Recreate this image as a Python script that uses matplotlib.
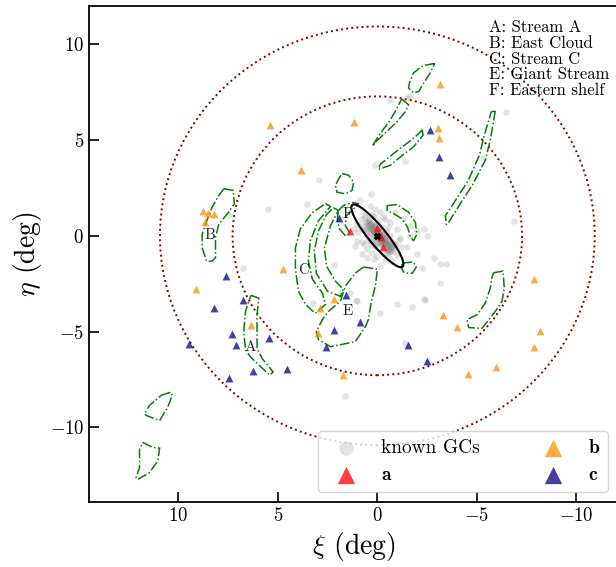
import matplotlib
matplotlib.use('Agg')
import matplotlib.pyplot as plt
from matplotlib.patches import Ellipse, Circle, Polygon

plt.rcParams['font.family'] = 'serif'
plt.rcParams['font.serif'] = ['cmr10']
plt.rcParams['mathtext.fontset'] = 'cm'
plt.rcParams['axes.formatter.use_mathtext'] = True

# --- known GCs (xi, eta in deg) ---
gc_xi = [-1.62, -1.5, -0.62, -6.47, -1.37, -5.31, 0.1, 7.44, 5.49, 6.77, 2.95, 3.53,
         0.32, 0.85, 2.2, 1.36, 1.02, -3.17, -2.86, -3.13, -3.47, -2.33, -2.5, -2.25,
         -2.33, -2.38, -6.87, -0.99, -1.74, -1.41, 3.23, 1.07, -0.14, 1.62,
         -0.9, -0.4, -1.32, -1.66, -1.99, -1.66, -1.99, -1.49, 0.77, 0.52, 0.02, -0.4,
         0.27, 1.11, 1.02, 0.69, 1.19, 0.85, 0.6, 0.19, -0.15, -0.65, -0.99, -1.16,
         -0.9, -0.65, -0.57, -0.74, -0.15, 0.19, 0.35,
         0.6, 0.4, 0.3, 0.5, 0.2, 0.1, 0.0, -0.1, 0.05, -0.2, -0.3, -0.4, -0.5, -0.3,
         -0.6, -0.7, -0.8, -0.5, -0.9, 0.2, 0.35, 0.7, 0.8, 0.25, -0.05, -0.25, -0.45,
         -0.15, 0.1, -0.65, 0.45, -0.35, -0.1, 0.15, -0.25, 0.0, 0.55, -0.75, 0.3, 1.0,
         0.95, -1.0, -1.2, 0.75, -0.55, 0.1, -0.3, 0.5, -1.1, 0.65,
         0.45, 0.35, 0.25, 0.15, 0.05, -0.05, -0.15, -0.25, -0.35, -0.45, -0.55, -0.65,
         0.4, 0.3, 0.2, 0.1, 0.0, -0.1, -0.2, -0.3, -0.4, -0.5, -0.6, -0.7,
         0.55, 0.15, -0.05, -0.35, -0.45, -0.15, 0.25, 0.05, -0.25, -0.55, 0.35, -0.85,
         0.6, 0.45, -0.7, -0.8, 0.1, -0.15, 0.3, -0.4,
         0.5, 0.4, 0.3, 0.2, 0.1, 0.0, -0.1, -0.2, -0.3, -0.4, -0.5, -0.6, -0.7,
         0.35, 0.25, 0.15, 0.05, -0.05, -0.15, -0.25, -0.35, -0.45, -0.55,
         0.2, 0.1, 0.0, -0.1, -0.2, -0.3, 0.3, -0.4, 0.45, -0.6]
gc_eta = [7.28, 7.2, 7.07, 6.46, 3.91, 4.07, 3.72, 1.09, 1.38, -1.68, 2.89, 1.67,
          2.19, 1.88, -1.53, -2.98, -3.38, -2.46, -1.17, -1.47, -1.47, 0.35, 0.0, -1.7,
          -3.28, -3.33, 0.77, -3.54, -3.74, -5.61, -3.51, -3.35, -4.05, -8.35,
          1.26, 0.88, 0.91, 0.53, 0.26, 0.0, -0.96, -0.61, -0.96, -1.14, -1.05, -1.32,
          -0.88, -0.53, -0.26, -0.44, 0.35, 0.53, 0.96, 1.05, 1.23, 0.7, 0.35, -0.09,
          -0.44, -0.79, -1.05, -1.32, -1.58, -1.23, 1.58,
          0.7, 0.9, 0.6, 0.4, 0.3, 0.5, 0.2, 0.0, -0.1, -0.2, 0.1, -0.3, -0.5, -0.6,
          -0.2, -0.6, -0.8, -0.9, -0.5, -0.3, 0.15, 0.3, 0.9, 1.1, 0.75, 0.45, 0.25,
          -0.45, -0.6, 0.05, -0.2, -0.95, 0.3, 0.05, -0.1, -0.35, 0.15, -0.3, -0.5, 0.6,
          0.2, -1.0, -0.6, -0.3, 0.45, 1.4, 1.0, -0.7, -0.2, 1.1,
          0.55, 0.45, 0.35, 0.25, 0.1, 0.0, -0.1, -0.25, -0.35, -0.45, -0.6, -0.7,
          0.8, 0.65, 0.5, 0.4, 0.3, 0.15, 0.05, -0.05, -0.2, -0.3, -0.45, -0.55,
          0.3, 0.2, 0.4, 0.1, -0.1, -0.3, -0.15, -0.45, -0.55, -0.75, 0.6, -0.65,
          0.5, 0.0, -0.4, -0.5, 0.55, 0.2, -0.25, -0.1,
          0.65, 0.5, 0.4, 0.28, 0.15, 0.05, -0.08, -0.2, -0.32, -0.45, -0.55, -0.68, -0.8,
          0.35, 0.25, 0.12, 0.0, -0.12, -0.22, -0.35, -0.48, -0.6, -0.72,
          0.55, 0.45, 0.35, 0.2, 0.1, -0.05, 0.6, -0.15, 0.75, -0.4]

# --- candidate groups ---
a_xi = [1.36, 0.02, -0.29, -0.2]
a_eta = [0.23, 0.4, -0.56, -0.05]

b_xi = [5.38, 1.16, 3.82, -3.17, -3.05, -3.12, 8.76, 8.5, 8.22, 8.69, 9.1, 4.77,
        6.35, -7.89, -3.28, -3.99, -8.19, -7.89, -5.96, -4.54, 2.16, 2.9, 3.0, 1.74]
b_eta = [5.79, 5.95, 3.42, 7.95, 5.63, 5.1, 1.31, 1.19, 1.14, 0.74, -2.8, -1.75,
         -4.68, -2.26, -4.16, -4.74, -4.96, -5.83, -6.84, -7.21, -3.28, -3.77, -5.09, -7.28]

c_xi = [7.62, 6.75, 8.23, 7.32, 9.48, 7.12, 5.46, 6.23, 4.54, 7.47, 1.57, 0.85,
        2.16, 2.56, 1.91, -3.1, -3.67, -2.63, -1.52, -2.5]
c_eta = [-2.12, -3.33, -3.75, -5.14, -5.63, -5.72, -5.35, -7.07, -6.93, -7.42, -3.11, -4.51,
         -4.93, -5.81, 0.93, 4.09, 3.19, 5.53, -5.72, -6.54]

# --- substructure outlines (xi, eta) ---
poly_A = [(6.35, -3.11), (5.96, -3.25), (6.05, -4.12), (6.05, -5.88), (5.79, -6.41),
          (5.24, -7.11), (5.41, -7.28), (5.96, -6.75), (6.38, -6.32), (6.63, -5.96),
          (6.72, -5.0), (6.63, -3.95), (6.47, -3.42)]
poly_B = [(7.72, 2.46), (7.25, 2.37), (7.19, 1.67), (7.55, 1.14), (7.97, 0.62),
          (8.14, -0.09), (8.14, -1.14), (8.31, -1.32), (8.59, -1.32), (8.81, -0.62),
          (8.81, 0.09), (8.64, 0.62), (8.31, 1.49), (7.97, 2.11)]
poly_C1 = [(2.61, 1.68), (2.36, 1.53), (2.96, 0.79), (3.37, -0.26), (3.47, -1.32),
           (3.27, -2.26), (2.76, -3.0), (2.61, -3.58), (3.12, -4.05), (3.62, -3.58),
           (3.97, -2.89), (4.12, -1.74), (4.12, -0.63), (3.87, 0.37), (3.27, 1.21)]
poly_C2 = [(2.21, 1.47), (1.96, 1.32), (2.36, 0.53), (2.66, -0.63), (2.56, -1.58),
           (2.11, -2.37), (1.71, -2.79), (1.86, -3.16), (2.51, -2.89), (3.07, -1.95),
           (3.17, -0.79), (2.96, 0.26), (2.56, 1.11)]
poly_E = [(0.7, -1.63), (0.0, -1.74), (0.1, -2.63), (0.3, -3.42), (0.45, -4.37),
          (0.6, -4.74), (1.11, -5.53), (2.36, -5.79), (2.96, -5.42), (3.07, -5.0),
          (2.76, -4.37), (2.46, -3.95), (1.86, -3.42), (1.61, -2.63), (1.11, -1.95)]
poly_F = [(1.96, 1.32), (1.71, 1.58), (1.26, 1.74), (0.95, 1.68), (1.26, 1.32),
          (1.56, 1.05), (1.61, 0.53), (1.36, 0.11), (1.61, 0.0), (1.91, 0.37), (2.01, 0.89)]
poly_NE = [(1.77, 3.25), (1.44, 3.16), (1.19, 2.81), (1.27, 2.37), (1.61, 2.19),
           (2.03, 2.28), (2.11, 2.63), (1.94, 2.98)]
poly_W1 = [(-0.49, 1.58), (-0.99, 1.63), (-1.57, 1.23), (-1.91, 0.7), (-1.99, 0.09),
           (-1.82, -0.26), (-1.66, -0.05), (-1.51, 0.47), (-1.24, 0.89), (-0.82, 1.16),
           (-0.49, 1.32)]
poly_W2 = [(-1.26, -1.42), (-1.81, -1.37), (-1.96, -1.63), (-1.76, -1.95),
           (-1.36, -1.95), (-1.21, -1.68)]
poly_N1 = [(-2.88, 9.0), (-2.3, 8.89), (-1.82, 8.51), (-1.61, 7.98), (-1.57, 7.72),
           (-1.82, 7.46), (-2.08, 7.54), (-2.33, 7.98), (-2.66, 8.51)]
poly_N2 = [(-1.24, 7.14), (-1.57, 6.84), (-1.41, 6.49), (-0.99, 5.96), (-0.65, 5.62),
           (0.1, 4.89), (0.25, 4.68), (-0.05, 5.21), (-0.65, 6.05), (-0.99, 6.67),
           (-1.16, 7.02)]
poly_N3 = [(-2.25, 5.53), (-2.3, 5.26), (-1.82, 4.65), (-1.16, 4.12), (-0.65, 3.68),
           (-0.05, 3.47), (-0.15, 3.74), (-0.82, 4.3), (-1.49, 4.83), (-2.0, 5.26)]
poly_NW = [(-5.93, 6.53), (-5.68, 5.0), (-5.43, 3.95), (-4.77, 2.63), (-4.27, 1.84),
           (-3.57, 0.68), (-3.47, 0.58), (-3.42, 1.05), (-3.92, 1.84), (-4.57, 2.89),
           (-5.13, 4.21), (-5.38, 5.26), (-5.73, 6.47)]
poly_SW = [(-5.84, -1.93), (-6.32, -1.84), (-6.38, -2.72), (-6.27, -3.42), (-5.93, -3.95),
           (-5.26, -4.83), (-4.59, -4.79), (-4.51, -4.38), (-5.01, -4.12), (-5.43, -3.51),
           (-5.68, -2.72), (-5.76, -2.19)]
poly_SE1 = [(10.87, -8.33), (10.37, -8.16), (10.32, -8.33), (10.54, -8.95), (10.95, -9.65),
            (11.62, -9.38), (11.71, -9.3), (11.46, -8.86)]
poly_SE2 = [(11.79, -10.79), (11.29, -11.05), (10.95, -11.09), (11.04, -11.75),
            (11.46, -12.37), (12.05, -12.72), (12.13, -12.63), (11.96, -12.11), (11.96, -11.14)]

outlines = [poly_A, poly_B, poly_C1, poly_C2, poly_E, poly_F, poly_NE, poly_W1, poly_W2,
            poly_N1, poly_N2, poly_N3, poly_NW, poly_SW, poly_SE1, poly_SE2]

label_text = ['A', 'B', 'C', 'E', 'F']
label_xi = [6.38, 8.43, 3.7, 1.49, 1.52]
label_eta = [-5.79, 0.04, -1.79, -3.95, 1.14]

key_lines = ['A: Stream A', 'B: East Cloud', 'C: Stream C', 'E: Giant Stream', 'F: Eastern shelf']

ring_radii = [7.28, 10.93]   # 100 and 150 kpc
disk_a, disk_b, disk_pa = 2.05, 0.45, 38.0

fig = plt.figure(figsize=(6.16, 5.67), dpi=100)
ax = fig.add_axes([89 / 616, 65 / 567, 529 / 616, 496 / 567])

for r in ring_radii:
    ax.add_patch(Circle((0, 0), r, fill=False, ls=':', lw=1.4, color='darkred', zorder=1))

for pts in outlines:
    ax.add_patch(Polygon(pts, closed=True, fill=False, ls='-.', lw=1.1,
                         color='green', zorder=2))

gcs = ax.scatter(gc_xi, gc_eta, s=22, c='gray', alpha=0.22, lw=0, zorder=1.5, label='known GCs')
sa = ax.scatter(a_xi, a_eta, s=32, marker='^', c='red', alpha=0.75, lw=0, zorder=3,
                label=r'$\mathbf{a}$')
sb = ax.scatter(b_xi, b_eta, s=32, marker='^', c='darkorange', alpha=0.75, lw=0, zorder=3,
                label=r'$\mathbf{b}$')
sc = ax.scatter(c_xi, c_eta, s=32, marker='^', c='darkblue', alpha=0.75, lw=0, zorder=3,
                label=r'$\mathbf{c}$')

ax.add_patch(Ellipse((0, 0), 2 * disk_a, 2 * disk_b, angle=90 - disk_pa,
                     fill=False, color='black', lw=1.5, zorder=4))
ax.scatter([0], [0], marker='X', s=18, c='black', zorder=5)

for t, x, y in zip(label_text, label_xi, label_eta):
    ax.text(x, y, t, fontsize=11, ha='center', va='center', color='#222222', zorder=4)

ax.text(0.756, 0.972, '\n'.join(key_lines), transform=ax.transAxes, fontsize=12,
        va='top', ha='left', linespacing=1.03)

ax.set_xlim(14.5, -12.1)
ax.set_ylim(-13.9, 12.0)
ax.set_xlabel(r'$\xi$ (deg)', fontsize=20)
ax.set_ylabel(r'$\eta$ (deg)', fontsize=20)
ax.tick_params(direction='in', length=7, width=1.2, labelsize=13.5, top=False, right=False)
for sp in ax.spines.values():
    sp.set_linewidth(1.3)

ax.legend(handles=[gcs, sa, sb, sc], loc='lower right', ncol=2, fontsize=14,
          markerscale=2.2, columnspacing=2.8)

fig.savefig('out.png', dpi=100)
